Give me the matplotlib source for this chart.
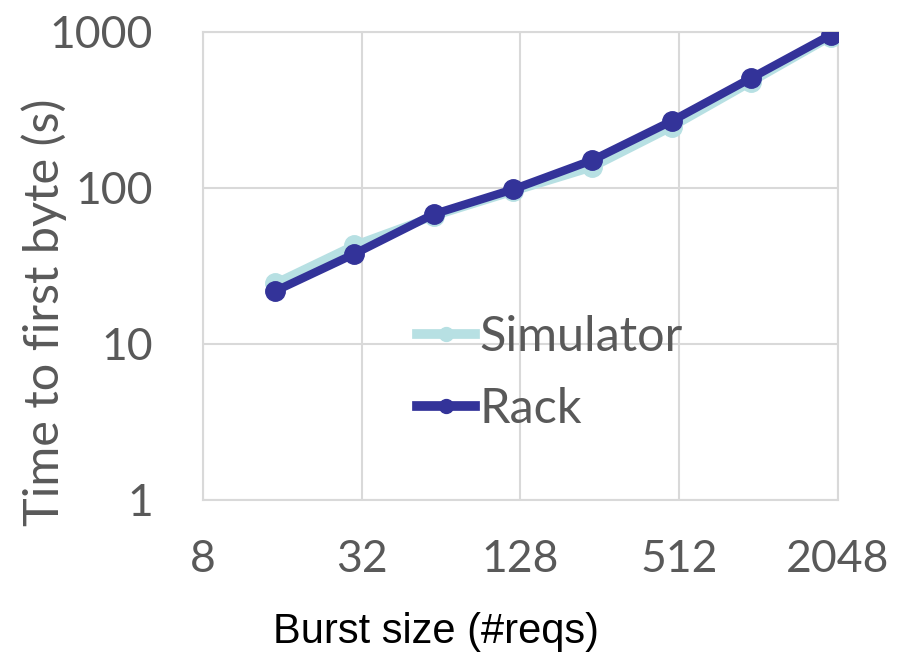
import numpy as np
import matplotlib
matplotlib.use("Agg")
import matplotlib.pyplot as plt
from matplotlib.lines import Line2D
from matplotlib.ticker import FixedLocator, NullLocator

# data
burst = [15, 30, 60, 120, 240, 480, 960, 1920]
simulator = [24.5, 43, 66, 95, 136, 246, 478, 930]
rack = [21.8, 37.8, 68, 98, 151, 269, 507, 957]

xticks = [8, 32, 128, 512, 2048]
yticks = [1, 10, 100, 1000]

sim_color = "#b7e0e3"
rack_color = "#333399"
grid_color = "#d9d9d9"
txt_color = "#595959"

fig = plt.figure(figsize=(9.04, 6.52), dpi=100)
ax = fig.add_axes([203/904, 1-500/652, (838-203)/904, (500-32)/652])

ax.plot(burst, simulator, color=sim_color, lw=6, marker="o", ms=14, zorder=3)
ax.plot(burst, rack, color=rack_color, lw=6, marker="o", ms=14, zorder=4)

ax.set_xscale("log", base=2)
ax.set_yscale("log")
ax.set_xlim(8, 2048)
ax.set_ylim(1, 1000)
ax.xaxis.set_major_locator(FixedLocator(xticks))
ax.yaxis.set_major_locator(FixedLocator(yticks))
ax.xaxis.set_minor_locator(NullLocator())
ax.yaxis.set_minor_locator(NullLocator())
ax.set_xticklabels([str(v) for v in xticks])
ax.set_yticklabels([str(v) for v in yticks])

ax.grid(True, color=grid_color, lw=1.5, zorder=0)
for s in ax.spines.values():
    s.set_color(grid_color)
    s.set_linewidth(1.5)
ax.tick_params(length=0, labelsize=32, labelcolor=txt_color)
ax.tick_params(axis="x", pad=28)
ax.tick_params(axis="y", pad=36)
for lab in ax.get_xticklabels() + ax.get_yticklabels():
    lab.set_family("Lato")

ax.set_ylabel("Time to first byte (s)", fontsize=35, color=txt_color,
              family="Lato")
ax.yaxis.set_label_coords(-0.214, 0.402)
ax.set_xlabel("Burst size (#reqs)", fontsize=30, color="black",
              family="Liberation Sans")
ax.xaxis.set_label_coords(0.367, -0.24)

handles = [Line2D([], [], color=sim_color, lw=7, marker="o", ms=10),
           Line2D([], [], color=rack_color, lw=7, marker="o", ms=10)]
leg = ax.legend(handles, ["Simulator", "Rack"], loc="upper left",
                bbox_to_anchor=(0.337, 0.396), frameon=False, borderpad=0,
                borderaxespad=0, handlelength=1.2, handletextpad=0.08,
                labelspacing=0.58, prop={"family": "Lato", "size": 35})
for t in leg.get_texts():
    t.set_color(txt_color)

fig.savefig("out.png", dpi=100)
